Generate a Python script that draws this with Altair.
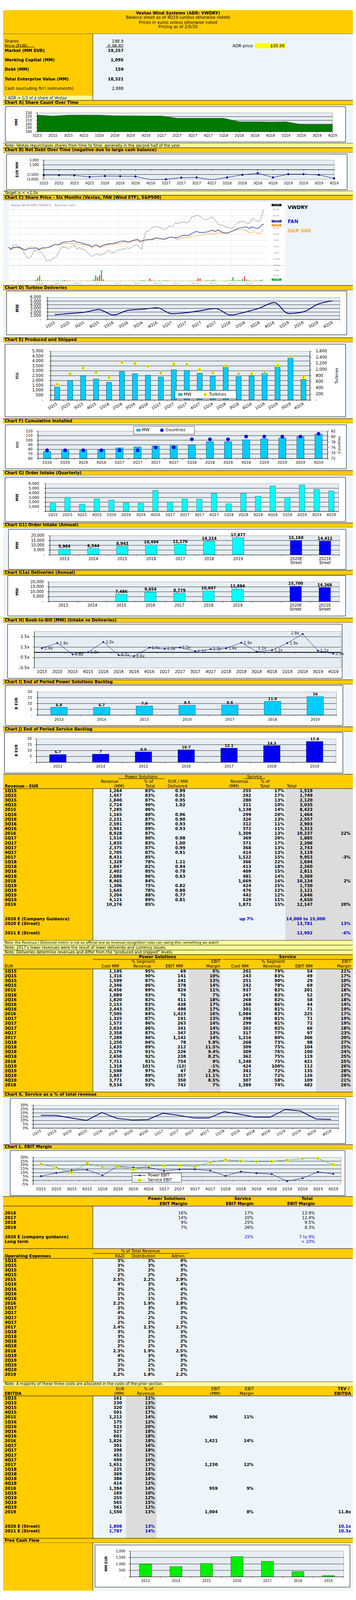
import altair as alt
import pandas as pd

# ====================== DATA ======================
QUARTERS = ["1Q15", "2Q15", "3Q15", "4Q15", "1Q16", "2Q16", "3Q16", "4Q16",
            "1Q17", "2Q17", "3Q17", "4Q17", "1Q18", "2Q18", "3Q18", "4Q18",
            "1Q19", "2Q19", "3Q19", "4Q19"]
QUARTERS_16 = QUARTERS[4:]
YEARS = ["2013", "2014", "2015", "2016", "2017", "2018", "2019"]
YEAR_SLOTS = ["2013", "2014", "2015", "2016", "2017", "2018", "2019", "gap", "2020E", "2021E"]
YEAR_SLOT_LINE1 = ["2013", "2014", "2015", "2016", "2017", "2018", "2019", "", "2020E", "2021E"]
YEAR_SLOT_LINE2 = ["", "", "", "", "", "", "", "", "Street", "Street"]
YEAR_SLOT_EST = [False] * 8 + [True, True]

title_lines = ["Vestas Wind Systems (ADR: VWDRY)",
               "Balance sheet as of 4Q19 (unless otherwise noted)",
               "Prices in euros unless otherwise noted",
               "Pricing as of 2/5/20"]
summary_labels = ["Shares", "Price (EUR)", "Market (MM EUR)", "Working Capital (MM)", "Debt (MM)",
                  "Total Enterprise Value (MM)", "Cash (excluding fin'l instruments)"]
summary_values = ["198.9", "€ 96.82", "19,257", "1,095", "159", "18,321", "2,888"]
summary_bold = [False, False, True, True, True, True, False]
summary_slots = [0, 1, 2, 4, 6, 8, 10]
adr_price = "$35.56"

# Chart A
share_count = [224.1, 221.4, 223.9, 224.0, 224.0, 222.2, 222.2, 221.6, 221.6, 215.5,
               215.5, 215.5, 215.5, 206.2, 206.2, 205.7, 206.2, 198.9, 198.9, 198.9]
share_ticks = [180, 190, 200, 210, 220, 230]
share_tick_labels = ["180", "190", "200", "210", "220", "230"]
# Chart B
net_debt = [-1701, -1700, -1768, -2261, -1992, -2060, -2104, -3150, -3000, -2485,
            -2418, -3150, -2418, -1589, -1097, -2418, -1388, -1388, -1634, -2709]
debt_ticks = [-3000, -1500, 0, 1500, 3000]
debt_tick_labels = ["(3,000)", "(1,500)", "-", "1,500", "3,000"]
# Chart C (six months, % change; x = trading day index)
vw_day = [0, 0.9, 2.3, 3.4, 4.5, 5.7, 7.4, 9.1, 10.2, 11.4, 13.1, 14.2, 15.3, 17.0, 18.2, 19.3, 20.5, 21.3, 22.4, 23.5,
          24.4, 25.6, 26.9, 28.4, 29.5, 30.7, 31.8, 33.3, 34.7, 36.0, 37.5, 39.2, 40.9, 42.6, 44.3, 45.5, 46.6, 47.7, 48.9, 50.0,
          51.5, 52.6, 54.0, 55.7, 56.8, 58.0, 59.1, 60.2, 61.4, 62.8, 64.2, 65.3, 66.5, 67.8, 69.0, 69.9, 71.3, 72.2, 73.3, 75.0,
          76.7, 78.1, 79.5, 81.0, 82.2, 83.5, 84.9, 86.4, 88.1, 89.4, 90.6, 92.0, 93.2, 94.9, 96.0, 97.2, 98.3, 99.4, 100.8, 101.9,
          103.4, 104.5, 105.7, 106.8, 108.0, 109.1, 110.2, 111.4, 112.5, 114.2, 115.3, 116.7, 118.2, 119.7, 121.0, 122.2, 123.3,
          124.4, 125.8, 126.9, 127.8, 128.8, 129.9]
vw_pct = [-0.2, -2.5, 1.0, 1.4, 0.7, -0.2, -3.6, -8.9, -9.2, -8.3, -3.1, -3.4, -2.5, -5.4, -7.7, -11.8, -10.6, -11.8, -9.4, -8.9,
          -7.7, -4.2, -0.8, -0.2, -0.8, -1.9, -0.2, 1.2, -1.9, -0.8, -1.9, -3.1, -6.0, -8.0, -6.0, -6.0, -7.1, -6.0, -5.7, -3.4,
          -3.4, -5.4, -4.5, -2.5, -3.1, -1.6, -2.2, -0.8, -1.6, -0.2, 1.0, 1.6, -0.5, -2.2, 6.8, 12.3, 12.6, 14.0, 15.5, 16.3,
          15.5, 14.9, 13.7, 15.5, 16.6, 16.0, 18.9, 18.7, 19.5, 20.1, 18.9, 20.1, 23.9, 24.5, 25.2, 24.5, 23.6, 21.6, 21.8, 22.2,
          23.9, 23.0, 20.4, 17.8, 17.2, 17.5, 16.0, 15.8, 14.9, 14.9, 17.2, 19.2, 20.1, 20.4, 19.2, 18.4, 20.1, 23.0, 21.0, 20.7,
          20.4, 23.9, 30.0]
fan_day = [0, 0.9, 2.3, 4.0, 5.7, 6.8, 8.5, 10.2, 11.9, 14.2, 15.3, 17.0, 19.3, 21.0, 23.3, 25.6, 27.8, 30.1, 31.8, 33.3,
           34.7, 36.4, 38.6, 40.9, 42.4, 43.8, 44.9, 46.6, 48.3, 50.0, 51.7, 53.4, 55.1, 56.8, 59.1, 60.8, 62.5, 64.2, 65.7, 67.0,
           68.8, 71.0, 73.3, 75.0, 76.7, 79.5, 81.8, 83.5, 85.2, 86.9, 88.1, 89.8, 91.5, 93.2, 95.5, 97.2, 99.4, 101.7, 103.4, 105.1,
           106.8, 108.0, 109.7, 111.4, 113.1, 115.3, 117.0, 118.8, 121.0, 122.7, 123.9, 125.6, 126.7, 127.8, 129.0, 129.9]
fan_pct = [-0.5, -2.2, -0.8, -0.5, -0.8, -1.6, -2.8, -1.3, -1.6, -1.0, -2.5, -1.0, -1.0, -0.2, 1.6, 1.6, 3.6, 3.9, 4.2, 4.8,
           3.6, 3.3, 2.1, 1.3, -0.2, 1.3, 1.3, -0.2, 1.3, 1.9, 2.4, 2.4, 3.3, 4.2, 4.5, 3.6, 4.5, 5.3, 5.8, 3.9,
           5.0, 5.6, 5.6, 7.1, 6.5, 5.9, 7.4, 7.6, 7.1, 7.6, 8.8, 9.1, 8.8, 10.5, 12.3, 11.4, 11.4, 12.0, 13.2, 12.3,
           13.4, 12.0, 11.1, 10.8, 12.0, 13.4, 14.9, 15.2, 16.0, 14.6, 16.0, 14.9, 14.6, 15.5, 17.5, 18.2]
spx_day = [0, 0.9, 2.3, 4.0, 5.7, 8.0, 9.7, 11.4, 13.1, 14.8, 16.5, 18.2, 19.9, 21.6, 23.3, 25.6, 27.8, 30.1, 32.4, 34.7,
           36.4, 38.6, 40.9, 42.6, 44.3, 45.5, 46.6, 48.3, 50.0, 51.7, 53.4, 55.7, 57.4, 59.1, 60.8, 62.5, 64.2, 65.9, 67.6, 69.9,
           72.2, 74.4, 76.7, 79.0, 81.3, 83.5, 84.7, 86.0, 87.5, 89.2, 90.9, 92.6, 93.8, 95.5, 97.2, 98.9, 100.6, 102.8, 104.5, 106.8,
           108.5, 110.2, 111.9, 114.2, 115.9, 117.6, 119.9, 121.6, 122.7, 123.9, 125.6, 126.9, 128.4, 129.9]
spx_pct = [-0.2, -2.5, -1.3, -0.8, -1.3, -2.8, -1.9, -0.2, -0.8, -1.6, -2.2, -1.3, -0.8, -0.2, 1.6, 1.3, 2.4, 2.7, 2.4, 2.1,
           1.6, 1.9, 0.7, -1.3, 0.4, 0.4, -1.0, 0.1, 1.6, 1.9, 2.1, 2.4, 3.0, 3.9, 3.3, 3.9, 4.8, 5.0, 5.0, 5.3,
           5.6, 6.8, 6.2, 5.9, 7.4, 7.6, 6.8, 5.6, 6.5, 7.4, 7.1, 7.6, 8.5, 8.8, 8.8, 9.7, 10.3, 10.5, 9.9, 11.1,
           10.5, 10.8, 11.4, 12.6, 13.4, 13.7, 13.4, 12.6, 10.8, 11.4, 12.0, 10.1, 11.4, 13.8]
volume_m = [0.03, 0.04, 0.03, 0.02, 0.03, 0.03, 0.04, 0.05, 0.03, 0.04,
            0.05, 0.04, 0.06, 0.13, 0.30, 0.50, 0.08, 0.04, 0.05, 0.06,
            0.04, 0.03, 0.05, 0.04, 0.06, 0.05, 0.04, 0.08, 0.10, 0.06,
            0.05, 0.06, 0.04, 0.03, 0.04, 0.03, 0.04, 0.05, 0.03, 0.04,
            0.05, 0.06, 0.04, 0.15, 0.55, 0.35, 0.55, 1.05, 0.15, 0.04,
            0.03, 0.04, 0.03, 0.04, 0.03, 0.02, 0.03, 0.04, 0.03, 0.04,
            0.03, 0.04, 0.03, 0.04, 0.05, 0.03, 0.04, 0.06, 0.08, 0.07,
            0.05, 0.04, 0.25, 0.08, 0.05, 0.04, 0.04, 0.06, 0.05, 0.07,
            0.08, 0.07, 0.06, 0.04, 0.03, 0.05, 0.04, 0.03, 0.04, 0.05,
            0.03, 0.04, 0.05, 0.06, 0.04, 0.05, 0.06, 0.27, 0.25, 0.05,
            0.04, 0.06, 0.08, 0.05, 0.09, 0.15, 0.05, 0.03, 0.04, 0.03,
            0.04, 0.05, 0.06, 0.05, 0.08, 0.37, 0.07, 0.05, 0.12, 0.06,
            0.20, 0.45, 0.17, 0.06, 0.05, 0.04, 0.05, 0.06, 0.05, 0.09, 0.14]
volume_dir = ("grrgrrgrgr" "grgggrgrgg" "rgrggrggrg" "ggrrgrgrgr" "rggggrrgrg" "rgrggrgrrg" "grgrggrggg"
              "grrgrggrgg" "ggrgrrgrgr" "grggrgrrrg" "rggrgggrgr" "grggrggrgg" "grgrggrgrg" "g")
pct_ticks = [-15, -10, -5, 0, 5, 10, 15, 20, 25, 30]
pct_tick_labels = ["-15.0%", "-10.0%", "-5.0%", "0.0%", "5.0%", "10.0%", "15.0%", "20.0%", "25.0%", "30.0%"]
date_tick_labels = ["Aug 12", "Aug 26", "Sep 9", "Sep 23", "Oct 7", "Oct 21", "Nov 4", "Nov 18", "Dec 2",
                    "Dec 16", "Dec 30", "Jan 13", "Jan 27"]
date_tick_days = [5.9, 15.9, 25.0, 35.2, 45.5, 55.7, 65.7, 75.9, 85.2, 95.2, 104.3, 113.6, 122.7]
# Chart D
deliveries_mw = [1277, 1601, 1937, 2671, 1214, 2479, 2786, 3162, 1547, 1835,
                 2399, 2973, 1196, 1965, 3079, 4584, 1593, 2056, 4161, 5088]
mw6_ticks = [0, 1000, 2000, 3000, 4000, 5000, 6000]
mw6_tick_labels = ["-", "1,000", "2,000", "3,000", "4,000", "5,000", "6,000"]
# Chart E
produced_mw = [1337, 2005, 2496, 2157, 1819, 2919, 2707, 2555, 2369, 3105,
               3037, 2750, 2445, 3367, 2403, 2487, 2750, 3384, 4315, 2115]
turbines = [515, 859, 1049, 905, 737, 1228, 1198, 1106, 886, 1187,
            1171, 1000, 894, 1122, 864, 864, 894, 1130, 1423, 740]
mw5_ticks = [0, 500, 1000, 1500, 2000, 2500, 3000, 3500, 4000, 4500, 5000]
mw5_tick_labels = ["-", "500", "1,000", "1,500", "2,000", "2,500", "3,000", "3,500", "4,000", "4,500", "5,000"]
turb_ticks = [0, 200, 400, 600, 800, 1000, 1200, 1400, 1600]
turb_tick_labels = ["-", "200", "400", "600", "800", "1,000", "1,200", "1,400", "1,600"]
# Chart F
cumulative_gw = [75.5, 78.2, 78.2, 79.1, 83.3, 85.3, 87.3, 88.2, 90.0, 96.9, 96.9, 100.9, 102.8, 104.7, 108.1, 113.2]
countries = [75, 75, 75, 75, 75, 75, 76, 76, 79, 79, 79, 80, 80, 80, 80, 81]
cum_ticks = [60, 70, 80, 90, 100, 110, 120]
cum_tick_labels = ["60", "70", "80", "90", "100", "110", "120"]
ctry_ticks = [72, 74, 76, 78, 80, 82]
ctry_tick_labels = ["72", "74", "76", "78", "80", "82"]
# Chart G / G1 / G1a
order_intake_q = [1792, 3047, 1559, 2688, 2455, 1846, 1792, 4534, 2061, 2688,
                  2634, 3853, 1649, 3853, 3280, 5520, 3047, 5735, 4749, 4444]
order_intake_y = [5964, 6544, 8943, 10494, 11176, 14214, 17877, None, 15160, 14412]
deliveries_y = [None, None, 7486, 9654, 8779, 10847, 12884, None, 15700, 14366]
mw20_ticks = [0, 5000, 10000, 15000, 20000]
mw20_tick_labels = ["-", "5,000", "10,000", "15,000", "20,000"]
# Chart H
book_to_bill = [1.40, 1.89, 0.80, 1.01, 1.99, 0.74, 0.64, 1.44, 1.34, 1.46,
                1.11, 1.30, 1.38, 1.93, 1.07, 1.21, 1.89, 2.76, 1.15, 0.88]
book_to_bill_labels = ["1.4x", "1.9x", "0.8x", "1.0x", "2.0x", "0.7x", "0.6x", "1.4x", "1.3x", "1.5x",
                       "1.1x", "1.3x", "1.4x", "1.9x", "1.1x", "1.2x", "1.9x", "2.8x", "1.1x", "0.9x"]
btb_ticks = [-0.5, 0.5, 1.5, 2.5]
btb_tick_labels = ["-0.5x", "0.5x", "1.5x", "2.5x"]
# Charts I / J
ps_backlog = [6.8, 6.7, 7.9, 8.5, 8.8, 11.9, 16]
ps_backlog_labels = ["6.8", "6.7", "7.9", "8.5", "8.8", "11.9", "16"]
svc_backlog = [6.7, 7, 8.9, 10.7, 12.1, 14.3, 17.8]
svc_backlog_labels = ["6.7", "7", "8.9", "10.7", "12.1", "14.3", "17.8"]
b20_ticks = [0, 5, 10, 15, 20]
b20_tick_labels = ["-", "5", "10", "15", "20"]
# Revenue table
rev_rows = ["1Q15", "2Q15", "3Q15", "4Q15", "2015", "1Q16", "2Q16", "3Q16", "4Q16", "2016",
            "1Q17", "2Q17", "3Q17", "4Q17", "2017", "1Q18", "2Q18", "3Q18", "4Q18", "2018",
            "1Q19", "2Q19", "3Q19", "4Q19", "2019"]
ps_revenue = [1264, 1457, 1840, 2724, 7285, 1165, 2231, 2591, 2941, 8928, 1516, 1835, 2375, 2705, 8431,
              1328, 1847, 2402, 2888, 8465, 1306, 1645, 3204, 4121, 10276]
ps_revenue_pct = [83, 83, 87, 90, 86, 80, 87, 89, 89, 87, 80, 83, 87, 87, 85, 78, 82, 85, 86, 84, 75, 78, 88, 89, 85]
eur_per_mw = [0.99, 0.91, 0.95, 1.02, None, 0.96, 0.90, 0.93, 0.93, None, 0.98, 1.00, 0.99, 0.91, None,
              1.11, 0.94, 0.78, 0.63, None, 0.82, 0.80, 0.77, 0.81, None]
svc_revenue = [255, 292, 280, 311, 1138, 299, 326, 312, 372, 1309, 369, 371, 368, 414, 1522,
               366, 413, 409, 481, 1669, 424, 476, 442, 529, 1871]
svc_revenue_pct = [17, 17, 13, 10, 14, 20, 13, 11, 11, 13, 20, 17, 13, 13, 15, 22, 18, 15, 14, 16, 25, 22, 12, 11, 15]
total_revenue = [1519, 1749, 2120, 3035, 8423, 1464, 2557, 2903, 3313, 10237, 1885, 2206, 2743, 3119, 9953,
                 1694, 2260, 2811, 3369, 10134, 1730, 2121, 3646, 4650, 12147]
revenue_growth = [None] * 9 + [22] + [None] * 4 + [-3] + [None] * 4 + [2] + [None] * 4 + [20]
rev_est_rows = ["2020 E (Company Guidance)", "2020 E (Street)", "2021 E (Street)"]
rev_est_slots = [27, 28, 30]
rev_est_service = ["up 7%", "", ""]
rev_est_total = ["14,000 to 15,000", "13,781", "12,992"]
rev_est_growth = ["", "13%", "-6%"]
notes_rev = ["Note: the Revenue / Delivered metric is not an official one as revenue recognition rules can swing this; something we watch",
             "Note: 2017's lower revenues were the result of lower deliveries and currency issues.",
             "Note: Deliveries determine revenues and differ from the \"produced and shipped\" levels."]
# Cost / EBIT table
cost_rows = rev_rows[:-1] + ["2018"]
ps_cost = [1195, 1316, 1599, 2346, 6456, 1089, 1820, 2153, 2443, 7505, 1325, 1572, 2034, 2358, 7289,
           1250, 1635, 2176, 2650, 7711, 1318, 1598, 2847, 3771, 9534]
ps_cost_pct = [95, 90, 87, 86, 89, 93, 82, 83, 83, 84, 87, 86, 86, 87, 86, 94, 89, 91, 92, 91, 101, 97, 89, 92, 93]
ps_ebit = [69, 141, 241, 378, 829, 76, 411, 438, 498, 1423, 191, 263, 341, 347, 1142,
           78, 212, 226, 238, 754, -12, 47, 357, 350, 742]
ps_margin = [5, 10, 13, 14, 11, 7, 18, 17, 17, 16, 13, 14, 14, 13, 14, 5.9, 11.5, 9.4, 8.2, 9, -1, 2.9, 11.1, 8.5, 7]
svc_cost = [201, 243, 251, 242, 937, 247, 268, 268, 301, 1084, 298, 299, 302, 317, 1216,
            268, 309, 309, 362, 1248, 424, 341, 317, 307, 1389]
svc_cost_pct = [79, 83, 90, 78, 82, 83, 82, 86, 81, 83, 81, 81, 82, 77, 80, 73, 75, 76, 75, 75, 100, 72, 72, 58, 74]
svc_ebit = [54, 49, 29, 69, 201, 52, 58, 44, 71, 225, 71, 72, 66, 97, 306, 98, 104, 100, 119, 421, 112, 135, 126, 109, 482]
svc_margin = [21, 17, 10, 22, 18, 17, 18, 14, 19, 17, 19, 19, 18, 23, 20, 27, 25, 24, 25, 25, 26, 28, 29, 21, 26]
# Chart K / L
service_share = [16.8, 16.7, 13.2, 10.2, 20.4, 12.7, 10.7, 11.2, 19.6, 16.8,
                 13.4, 13.3, 21.6, 18.3, 14.5, 14.3, 24.5, 22.4, 12.1, 11.4]
k_ticks = [0, 5, 10, 15, 20, 25, 30]
k_tick_labels = ["0%", "5%", "10%", "15%", "20%", "25%", "30%"]
power_ebit_margin = [5.5, 9.7, 13.1, 13.9, 6.5, 18.4, 16.9, 16.9, 12.6, 14.3,
                     14.4, 12.8, 5.9, 11.5, 9.4, 8.2, -0.9, 2.9, 11.1, 8.5]
service_ebit_margin = [21.2, 16.8, 10.4, 22.2, 17.4, 17.8, 14.1, 19.1, 19.2, 19.4,
                       17.9, 23.4, 26.8, 25.2, 24.4, 24.7, 26.4, 28.4, 28.5, 20.6]
l_ticks = [-5, 0, 5, 10, 15, 20, 25, 30]
l_tick_labels = ["-5%", "0%", "5%", "10%", "15%", "20%", "25%", "30%"]
# EBIT margin summary
margin_rows = ["2016", "2017", "2018", "2019", "2020 E (company guidance)", "Long term"]
margin_slots = [0, 1, 2, 3, 5, 6]
margin_ps = ["16%", "14%", "9%", "7%", "", ""]
margin_svc = ["17%", "20%", "25%", "26%", "25%", ""]
margin_total = ["13.9%", "12.4%", "9.5%", "8.3%", "7 to 9%", "> 10%"]
margin_is_est = [False, False, False, False, True, True]
# Operating expenses
opex_rnd = [3, 3, 2, 2, 2.5, 4, 3, 2, 1, 2.2, 2, 4, 2, 2, 2.4, 3, 3, 2, 2, 2.3, 4, 3, 2, 2, 2.2]
opex_dist = [3, 3, 2, 2, 2.2, 3, 2, 1, 1, 1.9, 3, 2, 2, 2, 2.3, 3, 2, 2, 2, 1.9, 3, 2, 2, 1, 1.8]
opex_admin = [4, 4, 3, 2, 2.9, 4, 4, 2, 2, 2.8, 3, 3, 2, 2, 2.7, 3, 3, 2, 2, 2.5, 4, 3, 2, 2, 2.2]
# EBITDA
ebitda = [161, 230, 320, 501, 1212, 175, 523, 527, 601, 1826, 301, 398, 453, 499, 1651,
          225, 369, 386, 414, 1394, 169, 255, 565, 561, 1550]
ebitda_pct = [11, 13, 15, 17, 14, 12, 20, 18, 18, 18, 16, 18, 17, 16, 17, 13, 16, 14, 12, 14, 10, 12, 15, 12, 13]
ebit_annual = [None] * 4 + [906] + [None] * 4 + [1421] + [None] * 4 + [1230] + [None] * 4 + [959] + [None] * 4 + [1004]
ebit_margin_annual = [None] * 4 + [11] + [None] * 4 + [14] + [None] * 4 + [12] + [None] * 4 + [9] + [None] * 4 + [8]
tev_ebitda = [""] * 24 + ["11.8x"]
ebitda_est_rows = ["2020 E (Street)", "2021 E (Street)"]
ebitda_est = ["1,808", "1,787"]
ebitda_est_pct = ["13%", "14%"]
tev_ebitda_est = ["10.1x", "10.3x"]
# Free cash flow
fcf = [988, 802, 1035, 1572, 1206, 412, 101]
fcf_ticks = [0, 500, 1000, 1500, 2000]
fcf_tick_labels = ["-", "500", "1,000", "1,500", "2,000"]

# ====================== STYLE / LAYOUT ======================
# The page is photographed only down to ~4096 px, so the whole 7327 px tall
# reference layout is scaled vertically to fit in that height.
FONT = "DejaVu Sans"
GOLD = "#ffcc00"
PALE = "#ffff99"
BG = "#eef5fa"
PLOTBG = "#e6eef4"
GRAYC = "#dcdcdc"
NAVY = "#000080"
CYAN = "#00ccff"
AQUA = "#00ffff"
ESTB = "#0000ff"
BLUET = "#0000cc"
STAR = "M-0.7,-0.7L0.7,0.7M0.7,-0.7L-0.7,0.7M0,-1L0,1"
REF_H = 7327.0
H = 4082
W = 904
K = H / REF_H
FS = 0.66
MS = 0.45
ROT = 331


def X(x):
    return round(x * 904.0 / 912.0, 2)


def Y(y):
    return round(y * K, 2)


def fs(s):
    return round(s * FS, 2)


L = []
ONE = pd.DataFrame({"k": [0]})


def box(x0, y0, x1, y1, fill, stroke=None, sw=1.0):
    kw = dict(fill=fill)
    if stroke:
        kw.update(stroke=stroke, strokeWidth=sw)
    else:
        kw.update(strokeWidth=0)
    L.append(alt.Chart(ONE).mark_rect(**kw).encode(
        x=alt.value(X(x0)), x2=alt.value(X(x1)), y=alt.value(Y(y0)), y2=alt.value(Y(y1))))


def hline(x0, x1, y, color="black", w=1.0):
    L.append(alt.Chart(ONE).mark_rule(color=color, strokeWidth=w).encode(
        x=alt.value(X(x0)), x2=alt.value(X(x1)), y=alt.value(Y(y))))


def vline(x, y0, y1, color="black", w=1.0):
    L.append(alt.Chart(ONE).mark_rule(color=color, strokeWidth=w).encode(
        x=alt.value(X(x)), y=alt.value(Y(y0)), y2=alt.value(Y(y1))))


def txt(x, y, s, size=16, bold=False, align="left", color="black", angle=0):
    kw = dict(align=align, baseline="middle", fontSize=fs(size), font=FONT, color=color)
    if bold:
        kw["fontWeight"] = "bold"
    if angle:
        kw["angle"] = angle
    L.append(alt.Chart(ONE).mark_text(**kw).encode(x=alt.value(X(x)), y=alt.value(Y(y)), text=alt.value(s)))


def marker_at(x, y, kind):
    if kind == "star":
        L.append(alt.Chart(ONE).mark_square(size=130 * MS, color="#ffff00", opacity=1).encode(
            x=alt.value(X(x)), y=alt.value(Y(y))))
        L.append(alt.Chart(ONE).mark_point(shape=STAR, size=55 * MS, color="black", filled=False, strokeWidth=0.8).encode(
            x=alt.value(X(x)), y=alt.value(Y(y))))
    elif kind == "diamond":
        L.append(alt.Chart(ONE).mark_point(shape="diamond", size=70 * MS, color=NAVY, filled=True, opacity=1).encode(
            x=alt.value(X(x)), y=alt.value(Y(y))))
    elif kind == "circle":
        L.append(alt.Chart(ONE).mark_circle(size=180 * MS, color=ESTB, opacity=1).encode(
            x=alt.value(X(x)), y=alt.value(Y(y))))


def header(y0, y1, s):
    box(0, y0, 912, y1, GOLD)
    hline(0, 912, y0)
    hline(0, 912, y1)
    txt(4, (y0 + y1) / 2.0, s, bold=True)


def note(y0, y1, s, size=15):
    box(0, y0, 912, y1, PALE)
    hline(0, 912, y0, w=0.8)
    hline(0, 912, y1, w=0.8)
    txt(4, (y0 + y1) / 2.0, s, size=size)


def frame(y0, y1, bx):
    box(0, y0, 912, y1, BG)
    box(bx[0], bx[1], bx[2], bx[3], "white", stroke="black", sw=1)


def yscale(dom, top, bot):
    return alt.Scale(domain=dom, range=[Y(bot), Y(top)], zero=False, nice=False)


def bandx(cats, l, r, pin=0.6):
    return alt.Scale(type="band", domain=cats, range=[X(l), X(r)], paddingInner=pin, paddingOuter=pin / 2.0)


def pointx(cats, l, r, pad=0.5):
    return alt.Scale(type="point", domain=cats, range=[X(l), X(r)], padding=pad)


def plotbg(l, t, r, b, dom, grid_vals):
    box(l, t, r, b, PLOTBG, stroke="#8a8a8a", sw=0.8)
    ys = yscale(dom, t, b)
    if grid_vals:
        L.append(alt.Chart(pd.DataFrame({"v": grid_vals})).mark_rule(color="black", strokeWidth=0.8).encode(
            y=alt.Y("v:Q", scale=ys, axis=None), x=alt.value(X(l)), x2=alt.value(X(r))))
    return ys


def yaxis(xpos, t, b, dom, ticks, labels, labx, size, side="left"):
    ys = yscale(dom, t, b)
    df = pd.DataFrame({"v": ticks, "s": labels})
    vline(xpos, t, b)
    x0, x1 = (xpos - 4, xpos) if side == "left" else (xpos, xpos + 4)
    L.append(alt.Chart(df).mark_rule(color="black", strokeWidth=0.8).encode(
        y=alt.Y("v:Q", scale=ys, axis=None), x=alt.value(X(x0)), x2=alt.value(X(x1))))
    L.append(alt.Chart(df).mark_text(align="right" if side == "left" else "left", baseline="middle",
                                     fontSize=fs(size), font=FONT, color="black").encode(
        y=alt.Y("v:Q", scale=ys, axis=None), x=alt.value(X(labx)), text="s:N"))


def cat_ticks(n, l, r, y, length=5):
    xs = alt.Scale(domain=[0, n], range=[X(l), X(r)], zero=False, nice=False)
    L.append(alt.Chart(pd.DataFrame({"i": list(range(n + 1))})).mark_rule(color="black", strokeWidth=0.8).encode(
        x=alt.X("i:Q", scale=xs, axis=None), y=alt.value(Y(y)), y2=alt.value(Y(y + length))))


def xlabels(cats, labels, xs, y, size, angle=0):
    df = pd.DataFrame({"c": cats, "s": labels})
    df = df[df["s"] != ""]
    kw = dict(baseline="middle", fontSize=fs(size), font=FONT, color="black")
    if angle:
        kw.update(angle=angle, align="right")
    else:
        kw.update(align="center")
    L.append(alt.Chart(df).mark_text(**kw).encode(
        x=alt.X("c:N", scale=xs, axis=None), y=alt.value(Y(y)), text="s:N"))


def text_col(strings, slots, y0, x, align="right", size=16, bold=None, color="black", step=22.0):
    if bold is None:
        bold = [False] * len(strings)
    df = pd.DataFrame({"slot": slots, "s": strings, "b": bold})
    df = df[df["s"] != ""]
    ys = alt.Scale(domain=[0, 1], range=[Y(y0), Y(y0 + step)], zero=False, nice=False)
    for flag in (False, True):
        sub = df[df["b"] == flag]
        if len(sub) == 0:
            continue
        kw = dict(align=align, baseline="middle", fontSize=fs(size), font=FONT, color=color)
        if flag:
            kw["fontWeight"] = "bold"
        L.append(alt.Chart(sub).mark_text(**kw).encode(
            y=alt.Y("slot:Q", scale=ys, axis=None), x=alt.value(X(x)), text="s:N"))


def fnum(v):
    if v is None:
        return ""
    if v < 0:
        return "({:,})".format(-v)
    return "{:,}".format(v)


def fpct(v):
    if v is None:
        return ""
    if float(v).is_integer():
        return "{:d}%".format(int(v))
    return "{:.1f}%".format(v)


def fdec(v):
    return "" if v is None else "{:.2f}".format(v)


def bar_layer(cats, vals, xs, ys, color, base=0, stroke="black", sw=0.6):
    df = pd.DataFrame({"c": cats, "v": vals}).dropna()
    L.append(alt.Chart(df).mark_bar(color=color, stroke=stroke, strokeWidth=sw).encode(
        x=alt.X("c:N", scale=xs, axis=None), y=alt.Y("v:Q", scale=ys, axis=None), y2=alt.datum(base)))


def star_layer(cats, vals, xs, ys):
    df = pd.DataFrame({"c": cats, "v": vals})
    L.append(alt.Chart(df).mark_square(size=130 * MS, color="#ffff00", opacity=1).encode(
        x=alt.X("c:N", scale=xs, axis=None), y=alt.Y("v:Q", scale=ys, axis=None)))
    L.append(alt.Chart(df).mark_point(shape=STAR, size=55 * MS, color="black", filled=False, strokeWidth=0.8).encode(
        x=alt.X("c:N", scale=xs, axis=None), y=alt.Y("v:Q", scale=ys, axis=None)))


bold_rows = [len(r) == 4 for r in rev_rows]
row_slots = list(range(25))

# ====================== TITLE & SUMMARY ======================
box(0, 0, 912, 110, GOLD)
hline(0, 912, 110)
txt(456, 15, title_lines[0], bold=True, align="center")
txt(456, 35, title_lines[1], align="center")
txt(456, 57, title_lines[2], align="center")
txt(456, 78.5, title_lines[3], align="center")
box(0, 110, 234, 397, GOLD)
box(234, 110, 912, 418, BG)
box(0, 397, 234, 418, PALE)
vline(234, 110, 418)
text_col(summary_labels, summary_slots, 144, 4, align="left", bold=summary_bold)
text_col(summary_values, summary_slots, 144, 314, align="right", bold=summary_bold)
hline(4, 82, 171)
hline(268, 314, 171)
txt(651, 166, "ADR price", align="right")
box(657, 153, 736, 177, "#ffff00")
txt(734, 166, adr_price, align="right")
txt(3, 408, "1 ADR = 1/3 of a share of Vestas", size=15, color=NAVY)

# ====================== CHART A ======================
header(418, 440, "Chart A) Share Count Over Time")
frame(440, 617, (6, 447, 893, 611))
ysA = plotbg(89, 476, 859, 563, [180, 230], [190, 200, 210, 220])
xsA = pointx(QUARTERS, 89, 859, 0)
L.append(alt.Chart(pd.DataFrame({"q": QUARTERS, "v": share_count})).mark_area(
    color="#007a00", line={"color": "#004d00", "strokeWidth": 0.8}, opacity=1).encode(
    x=alt.X("q:N", scale=xsA, axis=None), y=alt.Y("v:Q", scale=ysA, axis=None), y2=alt.datum(180)))
yaxis(89, 476, 563, [180, 230], share_ticks, share_tick_labels, 75, 13)
hline(89, 859, 563)
L.append(alt.Chart(pd.DataFrame({"q": QUARTERS})).mark_rule(color="black", strokeWidth=0.8).encode(
    x=alt.X("q:N", scale=xsA, axis=None), y=alt.value(Y(563)), y2=alt.value(Y(568))))
xlabels(QUARTERS, QUARTERS, xsA, 582, 13)
txt(35, 519.5, "MM", size=13, bold=True, align="center", angle=270)
note(617, 638, "Note: Vestas repurchases shares from time to time, generally in the second half of the year.")

# ====================== CHART B ======================
header(638, 660, "Chart B) Net Debt Over Time (negative due to large cash balance)")
frame(660, 838, (9, 667, 897, 832))
ysB = plotbg(106, 695, 863, 784, [-3000, 3000], [-1500, 0, 1500])
xsB = pointx(QUARTERS, 106, 863, 0)
dfB = pd.DataFrame({"q": QUARTERS, "v": net_debt})
L.append(alt.Chart(dfB).mark_line(color=NAVY, strokeWidth=1, clip=True).encode(
    x=alt.X("q:N", scale=xsB, axis=None), y=alt.Y("v:Q", scale=ysB, axis=None)))
L.append(alt.Chart(dfB).transform_filter("datum.v >= -3000").mark_point(
    shape="diamond", filled=True, color=NAVY, size=100 * MS, opacity=1).encode(
    x=alt.X("q:N", scale=xsB, axis=None), y=alt.Y("v:Q", scale=ysB, axis=None)))
yaxis(106, 695, 784, [-3000, 3000], debt_ticks, debt_tick_labels, 93, 13)
hline(106, 863, 739.5)
L.append(alt.Chart(pd.DataFrame({"q": QUARTERS})).mark_rule(color="black", strokeWidth=0.8).encode(
    x=alt.X("q:N", scale=xsB, axis=None), y=alt.value(Y(739.5)), y2=alt.value(Y(744.5))))
xlabels(QUARTERS, QUARTERS, xsB, 803, 13)
txt(37, 739.5, "EUR MM", size=13, bold=True, align="center", angle=270)
note(838, 858, "Target is < +1.0x")

# ====================== CHART C ======================
header(858, 880, "Chart C) Share Price - Six Months (Vestas, FAN (Wind ETF), S&P500)")
box(0, 880, 912, 1276, BG)
box(14.5, 891.7, 736, 1271, "white")
txt(20, 906, "Vestas Wind ADR (VWDRY) - Barchart.com", size=12, color="#8a8a8a")
txt(26, 925, "v", size=9, color="#777777", align="center")
txt(26, 1197, "^", size=9, color="#777777", align="center")
xsC = alt.Scale(domain=[0, 130], range=[X(14.5), X(679.9)], zero=False, nice=False)
ysC = yscale([-15, 30], 923.3, 1182.3)
ysV = yscale([0, 1], 1208.3, 1256)
L.append(alt.Chart(pd.DataFrame({"v": pct_ticks})).mark_rule(color="#e4e4e4", strokeWidth=1).encode(
    y=alt.Y("v:Q", scale=ysC, axis=None), x=alt.value(X(15)), x2=alt.value(X(690))))
L.append(alt.Chart(pd.DataFrame({"d": date_tick_days})).mark_rule(color="#ececec", strokeWidth=1).encode(
    x=alt.X("d:Q", scale=xsC, axis=None), y=alt.value(Y(913)), y2=alt.value(Y(1260))))
hline(15, 736, 1184, color="#e2e2e2", w=2)
hline(15, 690, 1232, color="#eeeeee")
for days, pcts, col, wdt in [(vw_day, vw_pct, "#6a6a6a", 0.9), (spx_day, spx_pct, "#f0a030", 1.2),
                             (fan_day, fan_pct, "#26348f", 1.4)]:
    L.append(alt.Chart(pd.DataFrame({"d": days, "p": pcts})).mark_line(color=col, strokeWidth=wdt).encode(
        x=alt.X("d:Q", scale=xsC, axis=None), y=alt.Y("p:Q", scale=ysC, axis=None)))
dfV = pd.DataFrame({"d": list(range(len(volume_m))), "v": volume_m, "dir": list(volume_dir)})
for code, col in [("g", "#2fae4a"), ("r", "#e2473c")]:
    L.append(alt.Chart(dfV[dfV["dir"] == code]).mark_bar(size=3, color=col).encode(
        x=alt.X("d:Q", scale=xsC, axis=None), y=alt.Y("v:Q", scale=ysV, axis=None), y2=alt.datum(0)))
L.append(alt.Chart(pd.DataFrame({"v": pct_ticks, "s": pct_tick_labels})).mark_text(
    align="center", baseline="middle", fontSize=fs(8), font=FONT, color="#777777").encode(
    y=alt.Y("v:Q", scale=ysC, axis=None), x=alt.value(X(712)), text="s:N"))
txt(712, 1208, "1.00M", size=7, color="#777777", align="center")
txt(712, 1232, "0.50M", size=7, color="#777777", align="center")
box(700, 898, 726, 908.5, "#111111")
txt(713, 903.2, "33.5%", size=7, color="white", align="center")
box(700, 973, 726, 983.5, "#2c3a9e")
txt(713, 978.2, "20.6%", size=7, color="white", align="center")
box(700, 992, 726, 1002.5, "#f0a030")
txt(713, 997.2, "17.2%", size=7, color="white", align="center")
box(700, 1244, 726, 1254.5, "#22a845")
txt(713, 1249.2, "0.14M", size=7, color="white", align="center")
L.append(alt.Chart(pd.DataFrame({"d": date_tick_days, "s": date_tick_labels})).mark_text(
    align="center", baseline="middle", fontSize=fs(8), font=FONT, color="#8a8a8a").encode(
    x=alt.X("d:Q", scale=xsC, axis=None), y=alt.value(Y(1266)), text="s:N"))
txt(742, 914, "VWDRY", size=19, bold=True)
txt(742, 980, "FAN", size=19, bold=True, color="#1a1ad8")
txt(742, 1024, "S&P 500", size=19, bold=True, color="#f4a838")

# ====================== CHART D ======================
header(1276, 1298, "Chart D) Turbine Deliveries")
frame(1298, 1518.6, (9, 1302, 896, 1505))
ysD = plotbg(116, 1331.7, 878, 1433.5, [0, 6000], [1000, 2000, 3000, 4000, 5000])
xsD = pointx(QUARTERS, 116, 878, 0.5)
L.append(alt.Chart(pd.DataFrame({"q": QUARTERS, "v": deliveries_mw})).mark_line(
    color=NAVY, strokeWidth=2.2, interpolate="monotone").encode(
    x=alt.X("q:N", scale=xsD, axis=None), y=alt.Y("v:Q", scale=ysD, axis=None)))
yaxis(116, 1331.7, 1433.5, [0, 6000], mw6_ticks, mw6_tick_labels, 99, 15)
hline(116, 878, 1433.5)
cat_ticks(20, 116, 878, 1433.5)
xlabels(QUARTERS, QUARTERS, xsD, 1447, 15, angle=ROT)
txt(38, 1382, "MW", size=15, bold=True, align="center", angle=270)

# ====================== CHART E ======================
header(1518.6, 1539.7, "Chart E) Produced and Shipped")
frame(1539.7, 1893.7, (5, 1548.5, 893, 1885))
ysE = plotbg(124, 1581.4, 800, 1807.6, [0, 5000], [500, 1000, 1500, 2000, 2500, 3000, 3500, 4000, 4500])
bar_layer(QUARTERS, produced_mw, bandx(QUARTERS, 124, 800, 0.6), ysE, CYAN)
ysE2 = yscale([0, 1600], 1581.4, 1807.6)
star_layer(QUARTERS, turbines, pointx(QUARTERS, 124, 800, 0.5), ysE2)
yaxis(124, 1581.4, 1807.6, [0, 5000], mw5_ticks, mw5_tick_labels, 105, 15.5)
yaxis(800, 1581.4, 1807.6, [0, 1600], turb_ticks, turb_tick_labels, 815, 15.5, side="right")
hline(124, 800, 1807.6)
cat_ticks(20, 124, 800, 1807.6)
xlabels(QUARTERS, QUARTERS, pointx(QUARTERS, 124, 800, 0.5), 1824, 15, angle=ROT)
txt(38, 1694.5, "MW", size=15, align="center", angle=270)
txt(870, 1694.5, "Turbines", size=15, align="center", angle=270)
box(448, 1763, 608, 1801, "white", stroke="black", sw=0.8)
box(457, 1777, 467, 1787, CYAN, stroke="black", sw=0.6)
txt(471, 1782, "MW", size=16)
marker_at(527, 1782, "star")
txt(537, 1782, "Turbines", size=16)

# ====================== CHART F ======================
header(1893.7, 1914.7, "Chart F) Cumulative Installed")
frame(1914.7, 2134.7, (6, 1922.4, 895, 2126.3))
ysF = plotbg(91, 1951.3, 846, 2078.5, [60, 120], [70, 80, 90, 100, 110])
bar_layer(QUARTERS_16, cumulative_gw, bandx(QUARTERS_16, 91, 846, 0.6), ysF, CYAN, base=60)
ysF2 = yscale([72, 82], 1951.3, 2078.5)
L.append(alt.Chart(pd.DataFrame({"q": QUARTERS_16, "v": countries})).mark_circle(
    size=200 * MS, color=ESTB, opacity=1).encode(
    x=alt.X("q:N", scale=pointx(QUARTERS_16, 91, 846, 0.5), axis=None), y=alt.Y("v:Q", scale=ysF2, axis=None)))
yaxis(91, 1951.3, 2078.5, [60, 120], cum_ticks, cum_tick_labels, 77, 14)
yaxis(846, 1951.3, 2078.5, [72, 82], ctry_ticks, ctry_tick_labels, 855, 14, side="right")
hline(91, 846, 2078.5)
cat_ticks(16, 91, 846, 2078.5)
xlabels(QUARTERS_16, QUARTERS_16, pointx(QUARTERS_16, 91, 846, 0.5), 2097.6, 14)
txt(38, 2015, "MW", size=14, align="center", angle=270)
txt(876, 2015, "Countries", size=14, align="center", angle=270)
box(340, 1929, 499, 1966, "white", stroke="black", sw=0.8)
box(348, 1942, 358, 1952, CYAN, stroke="black", sw=0.6)
txt(362, 1947.5, "MW", size=16)
marker_at(414, 1947.5, "circle")
txt(424, 1947.5, "Countries", size=16)

# ====================== CHART G ======================
header(2134.7, 2156, "Chart G) Order Intake (Quarterly)")
frame(2156, 2377, (5, 2165.3, 893, 2370.5))
ysG = plotbg(110.5, 2195.2, 875, 2323.4, [0, 6000], [1000, 2000, 3000, 4000, 5000])
bar_layer(QUARTERS, order_intake_q, bandx(QUARTERS, 110.5, 875, 0.62), ysG, AQUA, stroke="#333333")
yaxis(110.5, 2195.2, 2323.4, [0, 6000], mw6_ticks, mw6_tick_labels, 94, 14.5)
hline(110.5, 875, 2323.4)
cat_ticks(20, 110.5, 875, 2323.4)
xlabels(QUARTERS, QUARTERS, pointx(QUARTERS, 110.5, 875, 0.5), 2340.6, 14)
txt(37, 2259, "MW", size=14, bold=True, align="center", angle=270)


# ====================== CHARTS G1 / G1a ======================
def annual_chart(y_head0, y_head1, title, body_y1, bx, l, t, r, b, values, labx, ylab1, ylab2):
    header(y_head0, y_head1, title)
    frame(y_head1, body_y1, bx)
    ys = plotbg(l, t, r, b, [0, 20000], [5000, 10000, 15000])
    xs = bandx(YEAR_SLOTS, l, r, 0.6)
    act = [v if not e else None for v, e in zip(values, YEAR_SLOT_EST)]
    est = [v if e else None for v, e in zip(values, YEAR_SLOT_EST)]
    bar_layer(YEAR_SLOTS, act, xs, ys, AQUA, stroke="#333333")
    bar_layer(YEAR_SLOTS, est, xs, ys, ESTB, stroke="#333333")
    dfl = pd.DataFrame({"c": YEAR_SLOTS, "v": values, "s": [fnum(v) for v in values]}).dropna()
    L.append(alt.Chart(dfl).mark_text(align="center", baseline="middle", fontSize=fs(15), font=FONT,
                                      fontWeight="bold", dy=-6.5, color="black").encode(
        x=alt.X("c:N", scale=pointx(YEAR_SLOTS, l, r, 0.5), axis=None), y=alt.Y("v:Q", scale=ys, axis=None),
        text="s:N"))
    yaxis(l, t, b, [0, 20000], mw20_ticks, mw20_tick_labels, labx, 15)
    hline(l, r, b)
    cat_ticks(10, l, r, b)
    xlabels(YEAR_SLOTS, YEAR_SLOT_LINE1, pointx(YEAR_SLOTS, l, r, 0.5), ylab1, 15)
    xlabels(YEAR_SLOTS, YEAR_SLOT_LINE2, pointx(YEAR_SLOTS, l, r, 0.5), ylab2, 15)
    txt(37, (t + b) / 2.0, "MW", size=14, bold=True, align="center", angle=270)


annual_chart(2377, 2398, "Chart G1) Order Intake (Annual)", 2597, (14, 2406.4, 894, 2592.4),
             122, 2436.3, 877, 2525.4, order_intake_y, 107.6, 2545, 2562.6)
annual_chart(2597, 2618.4, "Chart G1a) Deliveries (Annual)", 2818, (12, 2621, 893, 2808.6),
             119, 2651, 876.5, 2741.6, deliveries_y, 106, 2760.7, 2778.7)

# ====================== CHART H ======================
header(2818, 2839, "Chart H) Book-to-Bill (MW) (Intake vs Deliveries)")
frame(2839, 3104.4, (11.6, 2846.8, 884, 3097.5))
ysH = plotbg(81.4, 2880.5, 881, 3049.7, [-0.5, 3.0], [0.5, 1.5, 2.5])
L.append(alt.Chart(pd.DataFrame({"v": [1.0]})).mark_rule(color="black", strokeWidth=2.2).encode(
    y=alt.Y("v:Q", scale=ysH, axis=None), x=alt.value(X(81.4)), x2=alt.value(X(881))))
cat_ticks(20, 81.4, 881, 2977.2)
xsH = pointx(QUARTERS, 81.4, 881, 0.5)
dfH = pd.DataFrame({"q": QUARTERS, "v": book_to_bill, "s": book_to_bill_labels})
L.append(alt.Chart(dfH).mark_line(color=NAVY, strokeWidth=0.9).encode(
    x=alt.X("q:N", scale=xsH, axis=None), y=alt.Y("v:Q", scale=ysH, axis=None)))
L.append(alt.Chart(dfH).mark_point(shape="diamond", filled=True, color=NAVY, size=70 * MS, opacity=1).encode(
    x=alt.X("q:N", scale=xsH, axis=None), y=alt.Y("v:Q", scale=ysH, axis=None)))
for flt, kw in [("datum.q != '3Q18' && datum.q != '2Q19'", dict(align="left", dx=6, dy=0.5)),
                ("datum.q == '3Q18'", dict(align="center", dx=14, dy=-8)),
                ("datum.q == '2Q19'", dict(align="right", dx=-9, dy=-2))]:
    L.append(alt.Chart(dfH).transform_filter(flt).mark_text(
        baseline="middle", fontSize=fs(15), font=FONT, color="#222222", **kw).encode(
        x=alt.X("q:N", scale=xsH, axis=None), y=alt.Y("v:Q", scale=ysH, axis=None), text="s:N"))
yaxis(81.4, 2880.5, 3049.7, [-0.5, 3.0], btb_ticks, btb_tick_labels, 68.6, 16)
xlabels(QUARTERS, QUARTERS, xsH, 3067.6, 15)


# ====================== CHARTS I / J ======================
def backlog_chart(y_head0, y_head1, title, body_y1, bx, l, t, r, b, values, labels, color, labx, ylab, ytitle):
    header(y_head0, y_head1, title)
    frame(y_head1, body_y1, bx)
    ys = plotbg(l, t, r, b, [0, 20], [5, 10, 15])
    bar_layer(YEARS, values, bandx(YEARS, l, r, 0.61), ys, color, stroke="#333333")
    L.append(alt.Chart(pd.DataFrame({"c": YEARS, "v": values, "s": labels})).mark_text(
        align="center", baseline="middle", fontSize=fs(14), font=FONT, fontWeight="bold", dy=-6,
        color="black").encode(
        x=alt.X("c:N", scale=pointx(YEARS, l, r, 0.5), axis=None), y=alt.Y("v:Q", scale=ys, axis=None), text="s:N"))
    yaxis(l, t, b, [0, 20], b20_ticks, b20_tick_labels, labx, 14)
    hline(l, r, b)
    cat_ticks(7, l, r, b)
    xlabels(YEARS, YEARS, pointx(YEARS, l, r, 0.5), ylab, 14)
    txt(35, ytitle, "B EUR", size=14, bold=True, align="center", angle=270)


backlog_chart(3104.4, 3125, "Chart I) End of Period Power Solutions Backlog", 3322.5, (6, 3130, 886, 3316.7),
              90, 3160.6, 869.5, 3268.1, ps_backlog, ps_backlog_labels, CYAN, 75.6, 3288, 3214)
backlog_chart(3322.5, 3344.7, "Chart J) End of Period Service Backlog", 3542.5, (3.5, 3348.5, 886, 3536.8),
              87, 3378, 868, 3487, svc_backlog, svc_backlog_labels, "#0000ee", 75, 3506, 3432)

# ====================== REVENUE TABLE ======================
box(0, 3542.5, 912, 3608.7, GOLD)
hline(0, 912, 3542.5)
box(0, 3608.7, 234, 4312.5, GOLD)
box(234, 3608.7, 912, 4312.5, BG)
box(736, 3608.7, 912, 4312.5, GRAYC)
hline(0, 912, 3608.7)
vline(234, 3608.7, 4312.5)
txt(360, 3554, "Power Solutions", align="center")
hline(300, 421, 3563)
txt(655.5, 3554, "Service", align="center")
hline(627, 684, 3563)
for xx, s in [(301, "Revenue"), (391, "% of"), (482, "EUR / MW"), (639, "Revenue"), (695, "% of")]:
    txt(xx, 3576, s, align="right")
txt(4, 3598, "Revenue - EUR", bold=True)
for xx, s in [(316, "(MM)"), (396, "Total"), (480, "Delivered"), (615, "(MM)"), (695, "Total")]:
    txt(xx, 3598, s, align="right")
txt(740, 3598, "Total")
text_col(rev_rows, row_slots, 3619.8, 4, align="left", bold=bold_rows)
text_col([fnum(v) for v in ps_revenue], row_slots, 3619.8, 310, bold=bold_rows)
text_col([fpct(v) for v in ps_revenue_pct], row_slots, 3619.8, 395.5, bold=bold_rows)
text_col([fdec(v) for v in eur_per_mw], row_slots, 3619.8, 475, bold=bold_rows)
text_col([fnum(v) for v in svc_revenue], row_slots, 3619.8, 647, bold=bold_rows)
text_col([fpct(v) for v in svc_revenue_pct], row_slots, 3619.8, 733, bold=bold_rows)
text_col([fnum(v) for v in total_revenue], row_slots, 3619.8, 807, bold=bold_rows)
text_col([fpct(v) for v in revenue_growth], row_slots, 3619.8, 906, bold=bold_rows)
text_col(rev_est_rows, rev_est_slots, 3619.8, 4, align="left", bold=[True] * 3)
text_col(rev_est_service, rev_est_slots, 3619.8, 653, bold=[True] * 3, color=BLUET)
text_col(rev_est_total[:1], rev_est_slots[:1], 3619.8, 840, bold=[True], color=BLUET)
text_col(rev_est_total[1:], rev_est_slots[1:], 3619.8, 807, bold=[True] * 2, color=BLUET)
text_col(rev_est_growth, rev_est_slots, 3619.8, 906, bold=[True] * 3, color=BLUET)
note(4312.5, 4334.4, notes_rev[0], size=13.5)
note(4334.4, 4357.5, notes_rev[1])
note(4357.5, 4379, notes_rev[2])

# ====================== COST / EBIT TABLE ======================
box(0, 4379, 912, 4445, GOLD)
hline(0, 912, 4379)
hline(234, 570, 4400.5)
hline(573, 912, 4400.5)
box(0, 4445, 234, 5015.6, GOLD)
box(234, 4445, 912, 5015.6, BG)
box(484, 4445, 567, 5015.6, GRAYC)
box(816, 4445, 912, 5015.6, GRAYC)
hline(0, 912, 4445)
vline(234, 4445, 5015.6)
txt(402.5, 4390, "Power Solutions", bold=True, align="center")
txt(741.6, 4390, "Service", bold=True, align="center")
txt(365, 4411.6, "% Segment", align="center")
txt(566, 4411.6, "EBIT", align="right")
txt(704, 4411.6, "% Segment", align="center")
txt(907, 4411.6, "EBIT", align="right")
txt(4, 4434, "EUR")
for xx, s in [(302, "Cost MM"), (386, "Revenue"), (469, "EBIT MM"), (566, "Margin"), (640, "Cost MM"),
              (724, "Revenue"), (807, "EBIT MM"), (907, "Margin")]:
    txt(xx, 4434, s, align="right")
text_col(cost_rows, row_slots, 4456.3, 4, align="left", bold=bold_rows)
text_col([fnum(v) for v in ps_cost], row_slots, 4456.3, 310, bold=bold_rows)
text_col([fpct(v) for v in ps_cost_pct], row_slots, 4456.3, 395.5, bold=bold_rows)
text_col([fnum(v) for v in ps_ebit], row_slots, 4456.3, 477, bold=bold_rows)
text_col([fpct(v) for v in ps_margin], row_slots, 4456.3, 564, bold=bold_rows)
text_col([fnum(v) for v in svc_cost], row_slots, 4456.3, 647, bold=bold_rows)
text_col([fpct(v) for v in svc_cost_pct], row_slots, 4456.3, 733, bold=bold_rows)
text_col([fnum(v) for v in svc_ebit], row_slots, 4456.3, 807, bold=bold_rows)
text_col([fpct(v) for v in svc_margin], row_slots, 4456.3, 906, bold=bold_rows)

# ====================== CHART K ======================
header(5015.6, 5038, "Chart K. Service as a % of total revenue")
frame(5038, 5259.4, (18.6, 5045.5, 893, 5254.5))
ysK = plotbg(78.5, 5076.8, 875, 5183, [0, 30], [5, 10, 15, 20, 25])
xsK = pointx(QUARTERS, 78.5, 875, 0.5)
L.append(alt.Chart(pd.DataFrame({"q": QUARTERS, "v": service_share})).mark_line(color=NAVY, strokeWidth=2).encode(
    x=alt.X("q:N", scale=xsK, axis=None), y=alt.Y("v:Q", scale=ysK, axis=None)))
yaxis(78.5, 5076.8, 5183, [0, 30], k_ticks, k_tick_labels, 65.7, 14)
hline(78.5, 875, 5183)
cat_ticks(20, 78.5, 875, 5183)
xlabels(QUARTERS, QUARTERS, xsK, 5194, 14, angle=ROT)

# ====================== CHART L ======================
header(5259.4, 5280.4, "Chart L. EBIT Margin")
frame(5280.4, 5500, (18.6, 5287, 891.6, 5495.5))
ysL = plotbg(78.5, 5318.3, 881, 5443.3, [-5, 30], [0, 5, 10, 15, 20, 25])
xsL = pointx(QUARTERS, 78.5, 881, 0.5)
cat_ticks(20, 78.5, 881, 5425.4)
dfLp = pd.DataFrame({"q": QUARTERS, "v": power_ebit_margin})
dfLs = pd.DataFrame({"q": QUARTERS, "v": service_ebit_margin})
L.append(alt.Chart(dfLs).mark_line(color="#339933", strokeWidth=0.9).encode(
    x=alt.X("q:N", scale=xsL, axis=None), y=alt.Y("v:Q", scale=ysL, axis=None)))
L.append(alt.Chart(dfLp).mark_line(color=NAVY, strokeWidth=1).encode(
    x=alt.X("q:N", scale=xsL, axis=None), y=alt.Y("v:Q", scale=ysL, axis=None)))
L.append(alt.Chart(dfLp).mark_point(shape="diamond", filled=True, color=NAVY, size=70 * MS, opacity=1).encode(
    x=alt.X("q:N", scale=xsL, axis=None), y=alt.Y("v:Q", scale=ysL, axis=None)))
star_layer(QUARTERS, service_ebit_margin, xsL, ysL)
yaxis(78.5, 5318.3, 5443.3, [-5, 30], l_ticks, l_tick_labels, 65.7, 14)
xlabels(QUARTERS, QUARTERS, xsL, 5465.6, 14.5)
box(336, 5391, 465, 5434, "white", stroke="black", sw=0.8)
hline(340, 372, 5402, color=NAVY, w=1.2)
marker_at(356, 5402, "diamond")
txt(378, 5402, "Power EBIT", size=15)
hline(340, 372, 5424, color="#339933", w=0.9)
marker_at(356, 5424, "star")
txt(378, 5424, "Service EBIT", size=15)

# ====================== EBIT MARGIN SUMMARY ======================
box(0, 5500, 912, 5544.6, GOLD)
hline(0, 912, 5500)
box(0, 5544.6, 234, 5741.5, GOLD)
box(234, 5544.6, 912, 5741.5, BG)
hline(0, 912, 5544.6)
vline(234, 5544.6, 5741.5)
txt(475, 5511.6, "Power Solutions", bold=True, align="right")
txt(647, 5511.6, "Service", bold=True, align="right")
txt(807, 5511.6, "Total", bold=True, align="right")
for xx in (480, 653, 813):
    txt(xx, 5534, "EBIT Margin", bold=True, align="right")
text_col(margin_rows, margin_slots, 5578, 4, align="left", bold=[True] * 6)
act_slots = [s for s, e in zip(margin_slots, margin_is_est) if not e]
est_slots = [s for s, e in zip(margin_slots, margin_is_est) if e]
for vals, xx in [(margin_ps, 480), (margin_svc, 653), (margin_total, 813)]:
    text_col([v for v, e in zip(vals, margin_is_est) if not e], act_slots, 5578, xx)
    text_col([v for v, e in zip(vals, margin_is_est) if e], est_slots, 5578, xx, color=BLUET)

# ====================== OPERATING EXPENSES ======================
box(0, 5741.5, 912, 5787, GOLD)
hline(0, 912, 5741.5)
txt(358, 5754, "% of Total Revenue", align="center")
hline(234, 484, 5764)
txt(4, 5776.3, "Operating Expenses", bold=True)
txt(316, 5776.3, "R&D", align="right")
txt(397, 5776.3, "Distribution", align="right")
txt(476, 5776.3, "Admin.", align="right")
box(0, 5787, 234, 6358.9, GOLD)
box(234, 5787, 912, 6358.9, BG)
hline(0, 912, 5787)
vline(234, 5787, 6358.9)
text_col(rev_rows, row_slots, 5798.2, 4, align="left", bold=bold_rows)
text_col([fpct(v) for v in opex_rnd], row_slots, 5798.2, 316, bold=bold_rows)
text_col([fpct(v) for v in opex_dist], row_slots, 5798.2, 395.5, bold=bold_rows)
text_col([fpct(v) for v in opex_admin], row_slots, 5798.2, 480, bold=bold_rows)
note(6358.9, 6380.5, "Note: A majority of these three costs are allocated in the costs of the prior section.")

# ====================== EBITDA TABLE ======================
box(0, 6380.5, 912, 6424.5, GOLD)
box(0, 6424.5, 234, 7084.5, GOLD)
box(234, 6424.5, 912, 7084.5, BG)
box(320, 6424.5, 400, 7084.5, GRAYC)
hline(0, 912, 6424.5)
vline(234, 6424.5, 7084.5)
for xx, s in [(316, "EUR"), (391, "% of"), (566, "EBIT"), (654, "EBIT")]:
    txt(xx, 6392.4, s, align="right")
txt(903, 6392.4, "TEV /", bold=True, align="right")
txt(4, 6414.7, "EBITDA", bold=True)
for xx, s in [(316, "(MM)"), (395.5, "Revenue"), (566, "(MM)"), (653, "Margin")]:
    txt(xx, 6414.7, s, align="right")
txt(907, 6414.7, "EBITDA", bold=True, align="right")
text_col(rev_rows, row_slots, 6435.7, 4, align="left", bold=bold_rows)
text_col([fnum(v) for v in ebitda], row_slots, 6435.7, 310, bold=bold_rows)
text_col([fpct(v) for v in ebitda_pct], row_slots, 6435.7, 395.5, bold=bold_rows)
text_col([fnum(v) for v in ebit_annual], row_slots, 6435.7, 559.5, bold=bold_rows)
text_col([fpct(v) for v in ebit_margin_annual], row_slots, 6435.7, 653, bold=bold_rows)
text_col(tev_ebitda, row_slots, 6435.7, 907, bold=bold_rows)
text_col(ebitda_est_rows, [27, 28], 6435.7, 4, align="left", bold=[True, True])
text_col(ebitda_est, [27, 28], 6435.7, 310, bold=[True, True], color=BLUET)
text_col(ebitda_est_pct, [27, 28], 6435.7, 395.5, bold=[True, True], color=BLUET)
text_col(tev_ebitda_est, [27, 28], 6435.7, 907, bold=[True, True], color=BLUET)

# ====================== FREE CASH FLOW ======================
header(7084.5, 7106.3, "Free Cash Flow")
box(0, 7106.3, 234, 7327, GOLD)
box(234, 7106.3, 912, 7327, BG)
vline(234, 7106.3, 7327)
box(239.6, 7115.5, 904.4, 7310.7, "white", stroke="black", sw=1)
ysFCF = plotbg(331.5, 7143.8, 888, 7263, [0, 2000], [500, 1000, 1500])
bar_layer(YEARS, fcf, bandx(YEARS, 331.5, 888, 0.6), ysFCF, "#00ee00", stroke="#222222")
yaxis(331.5, 7143.8, 7263, [0, 2000], fcf_ticks, fcf_tick_labels, 318.7, 13)
hline(331.5, 888, 7263)
cat_ticks(7, 331.5, 888, 7263)
xlabels(YEARS, YEARS, pointx(YEARS, 331.5, 888, 0.5), 7281.5, 13)
txt(268.7, 7203, "MM EUR", size=13, bold=True, align="center", angle=270)

# ====================== ASSEMBLE ======================
chart = alt.layer(*L).properties(
    width=W, height=H, padding=0, autosize=alt.AutoSizeParams(type="none")
).resolve_scale(x="independent", y="independent").configure_view(strokeWidth=0)

chart.save("out.html", embed_options={"renderer": "svg", "actions": False})
